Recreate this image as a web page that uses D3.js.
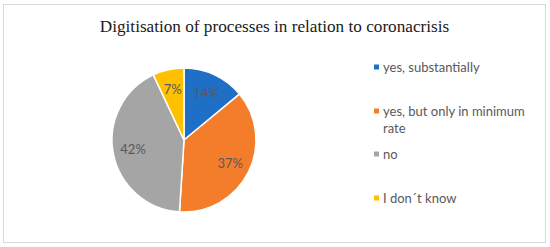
<!DOCTYPE html>
<html><head><meta charset="utf-8">
<script src="https://cdn.jsdelivr.net/npm/d3@7"></script>
<style>body{margin:0;background:#fff}svg{display:block}</style>
</head><body>
<script>
const categories = ["yes, substantially", "yes, but only in minimum rate", "no", "I don´t know"];
const values = [14, 37, 42, 7];
const labels = ["14%", "37%", "42%", "7%"];
const colors = ["#1F6FC6", "#F47D2B", "#A5A5A5", "#FFC000"];
const title = "Digitisation of processes in relation to coronacrisis";

const W = 550, H = 247;
const svg = d3.select("body").append("svg").attr("width", W).attr("height", H);
svg.append("rect").attr("x", 3.5).attr("y", 4.5).attr("width", 542).attr("height", 238)
  .attr("fill", "#fff").attr("stroke", "#d9d9d9").attr("stroke-width", 1);

svg.append("text").attr("x", 274.5).attr("y", 32).attr("text-anchor", "middle")
  .attr("font-family", "Liberation Serif").attr("font-size", 17.2).attr("fill", "#1a1a1a").text(title);

const cx = 184, cy = 140, r = 72;
const pie = d3.pie().sort(null).value(d => d)(values);
const arc = d3.arc().innerRadius(0).outerRadius(r);
const g = svg.append("g").attr("transform", `translate(${cx},${cy})`);
g.selectAll("path").data(pie).join("path")
  .attr("d", arc).attr("fill", (d, i) => colors[i]).attr("stroke", "#fff").attr("stroke-width", 1.5);
const labelArc = d3.arc().innerRadius(r * 0.72).outerRadius(r * 0.72);
g.selectAll("text").data(pie).join("text")
  .attr("transform", d => `translate(${labelArc.centroid(d)})`)
  .attr("text-anchor", "middle").attr("dy", "0.35em")
  .attr("font-family", "Lato").attr("font-size", 13).attr("fill", "#595959")
  .text((d, i) => labels[i]);

const legY = [67, 111, 154, 198];
const lg = svg.append("g");
categories.forEach((c, i) => {
  lg.append("rect").attr("x", 374).attr("y", legY[i] - 2.5).attr("width", 5).attr("height", 5).attr("fill", colors[i]);
  const t = lg.append("text").attr("x", 383).attr("y", legY[i] + 4.5)
    .attr("font-family", "Lato").attr("font-size", 13).attr("fill", "#595959");
  if (i === 1) {
    t.append("tspan").attr("x", 383).text("yes, but only in minimum");
    t.append("tspan").attr("x", 383).attr("dy", 17).text("rate");
  } else t.text(c);
});
</script>
</body></html>
